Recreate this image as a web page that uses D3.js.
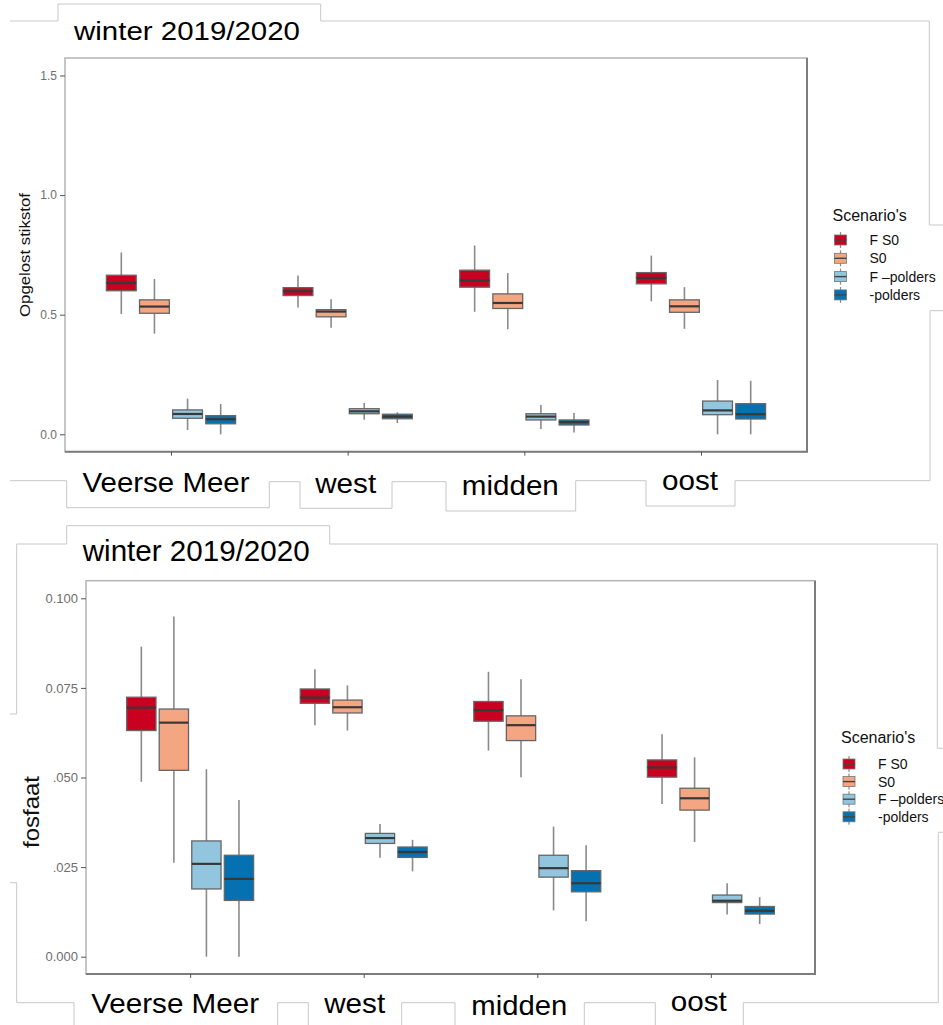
<!DOCTYPE html>
<html>
<head>
<meta charset="utf-8">
<title>winter 2019/2020</title>
<script src="https://d3js.org/d3.v7.min.js"></script>
<style>
body { margin: 0; background: #fff; }
svg text { font-family: "Liberation Sans", Arial, sans-serif; }
</style>
</head>
<body>
<div id="chart"></div>
<script>
var locations = ["Veerse Meer", "west", "midden", "oost"];
var scenarios = ["F S0", "S0", "F \u2013polders", "-polders"];
var colors = ["#ca0020", "#f4a582", "#92c5de", "#0571b0"];

// per scenario, per location: [min, q1, median, q3, max]
var stikstofFS0 = [[0.503, 0.600, 0.632, 0.665, 0.760], [0.530, 0.580, 0.598, 0.613, 0.664], [0.512, 0.615, 0.643, 0.686, 0.789], [0.556, 0.629, 0.654, 0.676, 0.747]];
var stikstofS0 = [[0.421, 0.506, 0.534, 0.562, 0.649], [0.445, 0.491, 0.513, 0.521, 0.565], [0.439, 0.526, 0.549, 0.587, 0.674], [0.441, 0.510, 0.535, 0.562, 0.615]];
var stikstofFpolders = [[0.018, 0.067, 0.085, 0.102, 0.149], [0.061, 0.086, 0.096, 0.107, 0.131], [0.022, 0.060, 0.074, 0.086, 0.123], [0.000, 0.082, 0.100, 0.139, 0.227]];
var stikstofPolders = [[0.000, 0.044, 0.063, 0.078, 0.127], [0.047, 0.065, 0.074, 0.084, 0.092], [0.008, 0.039, 0.051, 0.060, 0.089], [0.000, 0.064, 0.084, 0.128, 0.224]];

var fosfaatFS0 = [[0.0488, 0.0631, 0.0695, 0.0724, 0.0865], [0.0646, 0.0707, 0.0723, 0.0747, 0.0802], [0.0575, 0.0657, 0.0688, 0.0712, 0.0795], [0.0426, 0.0501, 0.0528, 0.0549, 0.0621]];
var fosfaatS0 = [[0.0262, 0.0520, 0.0653, 0.0691, 0.0949], [0.0631, 0.0680, 0.0696, 0.0716, 0.0757], [0.0501, 0.0603, 0.0646, 0.0672, 0.0774], [0.0320, 0.0409, 0.0442, 0.0470, 0.0556]];
var fosfaatFpolders = [[0.0000, 0.0189, 0.0259, 0.0323, 0.0523], [0.0276, 0.0316, 0.0331, 0.0344, 0.0370], [0.0129, 0.0222, 0.0247, 0.0283, 0.0363], [0.0118, 0.0151, 0.0156, 0.0172, 0.0205]];
var fosfaatPolders = [[0.0000, 0.0157, 0.0217, 0.0283, 0.0437], [0.0238, 0.0277, 0.0292, 0.0306, 0.0326], [0.0099, 0.0181, 0.0205, 0.0240, 0.0311], [0.0091, 0.0119, 0.0128, 0.0140, 0.0166]];

var stikstofTicks = [0, 0.5, 1.0, 1.5];
var stikstofTickLabels = ["0.0", "0.5", "1.0", "1.5"];
var fosfaatTicks = [0, 0.025, 0.05, 0.075, 0.1];
var fosfaatTickLabels = ["0.000", ".025", ".050", "0.075", "0.100"];

var svg = d3.select("#chart").append("svg")
    .attr("width", 943)
    .attr("height", 1025);

// pasted label patches (frame lines of the composite picture)
var patchLines = [
    [[10,21],[58,21],[58,4],[320.7,4],[320.7,21],[929.3,21],[929.3,225],[943,225]],
    [[943,310.7],[930,310.7],[930,480.7],[735,480.7],[735,506],[646,506],[646,480.7],[575.7,480.7],[575.7,511],[446,511],[446,481.7],[392,481.7],[392,508.3],[300,508.3],[300,481.7],[269.3,481.7],[269.3,507.7],[66.7,507.7],[66.7,480.7],[10,480.7]],
    [[10,714],[16.7,714],[16.7,544],[66.7,544],[66.7,525.7],[329.7,525.7],[329.7,544],[937.3,544],[937.3,748.3],[943,748.3]],
    [[10,882.7],[16.7,882.7],[16.7,1002.7],[74,1002.7],[74,1025]],
    [[277.7,1025],[277.7,1002.7],[308.3,1002.7],[308.3,1025]],
    [[401.7,1025],[401.7,1002.7],[455,1002.7],[455,1025]],
    [[584.3,1025],[584.3,1002.7],[655.3,1002.7],[655.3,1025]],
    [[743.3,1025],[743.3,1002.7],[938.3,1002.7],[938.3,832.3],[943,832.3]]
];
svg.selectAll(".patch").data(patchLines).enter().append("path")
    .attr("class", "patch")
    .attr("d", d3.line())
    .attr("fill", "none")
    .attr("stroke", "#c8c8c8")
    .attr("stroke-width", 1);

function panel(opt) {
    var g = svg.append("g");
    var x = d3.scalePoint().domain(locations).range([opt.left, opt.right]).padding(0.6);
    var step = x.step();
    var dodge = d3.scaleBand().domain(scenarios).range([-0.375 * step, 0.375 * step]);
    var bw = dodge.bandwidth() * 0.9;
    var y = d3.scaleLinear().domain(opt.domain).range([opt.bottom, opt.top]);

    // panel border
    g.append("rect")
        .attr("x", opt.left).attr("y", opt.top)
        .attr("width", opt.right - opt.left).attr("height", opt.bottom - opt.top)
        .attr("fill", "none").attr("stroke", "#b4b4b4").attr("stroke-width", 1.5);
    g.append("path")
        .attr("d", "M" + opt.right + "," + opt.top + "V" + opt.bottom + "H" + opt.left)
        .attr("fill", "none").attr("stroke", "#7d7d7d").attr("stroke-width", 2);

    // axes
    var yAxis = g.append("g")
        .attr("transform", "translate(" + opt.left + ",0)")
        .call(d3.axisLeft(y).tickValues(opt.ticks)
            .tickFormat(function(d, i) { return opt.tickLabels[i]; })
            .tickSize(5).tickPadding(3));
    yAxis.select(".domain").remove();
    yAxis.selectAll("line").attr("stroke", "#555");
    yAxis.selectAll("text").attr("fill", "#6e6e6e").style("font-size", opt.tickFont + "px");

    var xAxis = g.append("g")
        .attr("transform", "translate(0," + opt.bottom + ")")
        .call(d3.axisBottom(x).tickSize(4).tickFormat(""));
    xAxis.select(".domain").remove();
    xAxis.selectAll("line").attr("stroke", "#555");

    // boxes
    var rows = [];
    opt.series.forEach(function(s, i) {
        s.forEach(function(v, j) {
            rows.push({loc: locations[j], sc: scenarios[i], col: colors[i], v: v});
        });
    });
    var box = g.selectAll(".box").data(rows).enter().append("g").attr("class", "box")
        .attr("transform", function(d) { return "translate(" + (x(d.loc) + dodge(d.sc) + dodge.bandwidth() / 2) + ",0)"; });
    box.append("line")
        .attr("y1", function(d) { return y(d.v[0]); })
        .attr("y2", function(d) { return y(d.v[4]); })
        .attr("stroke", "#8a8a8a").attr("stroke-width", 1.6);
    box.append("rect")
        .attr("x", -bw / 2).attr("width", bw)
        .attr("y", function(d) { return y(d.v[3]); })
        .attr("height", function(d) { return y(d.v[1]) - y(d.v[3]); })
        .attr("fill", function(d) { return d.col; })
        .attr("stroke", "#666").attr("stroke-width", 1.3);
    box.append("line")
        .attr("x1", -bw / 2).attr("x2", bw / 2)
        .attr("y1", function(d) { return y(d.v[2]); })
        .attr("y2", function(d) { return y(d.v[2]); })
        .attr("stroke", "#383838").attr("stroke-width", 2.2);

    // y label
    g.append("text")
        .attr("transform", "translate(" + opt.ylab.x + "," + opt.ylab.y + ") rotate(-90)")
        .attr("text-anchor", "middle")
        .attr("textLength", opt.ylab.len).attr("lengthAdjust", "spacingAndGlyphs")
        .style("font-size", opt.ylab.size + "px")
        .attr("fill", "#111")
        .text(opt.ylab.text);

    // title
    g.append("text")
        .attr("x", opt.title.x).attr("y", opt.title.y)
        .attr("textLength", opt.title.len).attr("lengthAdjust", "spacingAndGlyphs")
        .style("font-size", opt.title.size + "px")
        .attr("fill", "#000")
        .text("winter 2019/2020");

    // big category labels
    g.selectAll(".cat").data(opt.cats).enter().append("text")
        .attr("class", "cat")
        .attr("x", function(d, i) { return x(locations[i]) + d.dx; })
        .attr("y", function(d) { return d.y; })
        .attr("text-anchor", "middle")
        .attr("textLength", function(d) { return d.len; }).attr("lengthAdjust", "spacingAndGlyphs")
        .style("font-size", opt.catSize + "px")
        .attr("fill", "#000")
        .text(function(d, i) { return locations[i]; });

    // legend
    var lg = g.append("g");
    lg.append("text")
        .attr("x", opt.legend.x).attr("y", opt.legend.y)
        .style("font-size", "16px").attr("fill", "#111")
        .text("Scenario's");
    var item = lg.selectAll(".key").data(scenarios).enter().append("g").attr("class", "key")
        .attr("transform", function(d, i) { return "translate(" + opt.legend.x + "," + (opt.legend.y0 + i * opt.legend.dy) + ")"; });
    item.append("line").attr("x1", 8).attr("x2", 8).attr("y1", -8).attr("y2", 8)
        .attr("stroke", "#8a8a8a").attr("stroke-width", 1.2);
    item.append("rect").attr("x", 2).attr("y", -5).attr("width", 12).attr("height", 10)
        .attr("fill", function(d, i) { return colors[i]; })
        .attr("stroke", "#777").attr("stroke-width", 0.8);
    item.append("line").attr("x1", 2).attr("x2", 14).attr("y1", 0).attr("y2", 0)
        .attr("stroke", "#444").attr("stroke-width", 1.4);
    item.append("text").attr("x", 37).attr("y", 5)
        .style("font-size", "14px").attr("fill", "#111")
        .text(function(d) { return d; });
}

panel({
    left: 65, right: 807, top: 58, bottom: 451.7,
    domain: [-0.0727, 1.573],
    series: [stikstofFS0, stikstofS0, stikstofFpolders, stikstofPolders],
    ticks: stikstofTicks, tickLabels: stikstofTickLabels, tickFont: 12,
    ylab: {text: "Opgelost stikstof", x: 30, y: 255, len: 124, size: 15},
    title: {x: 74, y: 40, len: 226, size: 26},
    catSize: 27,
    cats: [{dx: -5, y: 492, len: 167}, {dx: -2, y: 493, len: 61}, {dx: -14, y: 495, len: 97}, {dx: -11, y: 490, len: 56}],
    legend: {x: 832.5, y: 220.7, y0: 240, dy: 18.3}
});

panel({
    left: 86, right: 815, top: 580.7, bottom: 974,
    domain: [-0.00483, 0.10491],
    series: [fosfaatFS0, fosfaatS0, fosfaatFpolders, fosfaatPolders],
    ticks: fosfaatTicks, tickLabels: fosfaatTickLabels, tickFont: 13,
    ylab: {text: "fosfaat", x: 39, y: 812, len: 72, size: 22},
    title: {x: 82.7, y: 560.7, len: 227, size: 29},
    catSize: 28,
    cats: [{dx: -15, y: 1013, len: 168}, {dx: -9, y: 1013, len: 61}, {dx: -18, y: 1015, len: 96}, {dx: -12, y: 1010.5, len: 56}],
    legend: {x: 841, y: 743.3, y0: 764, dy: 17.6}
});
</script>
</body>
</html>
